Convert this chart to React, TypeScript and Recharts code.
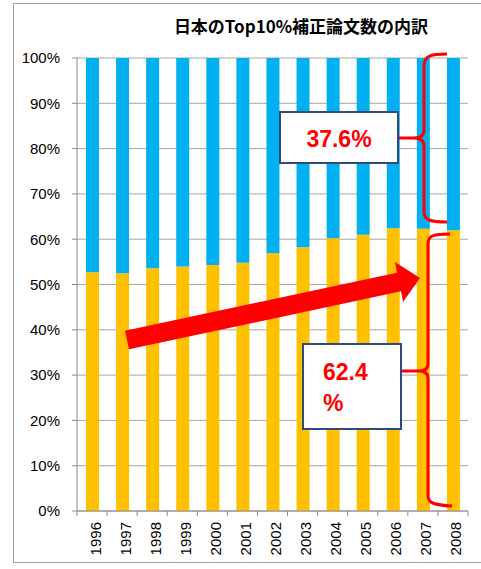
import { BarChart, Bar, XAxis, YAxis, CartesianGrid } from 'recharts'

const years = ['1996', '1997', '1998', '1999', '2000', '2001', '2002', '2003', '2004', '2005', '2006', '2007', '2008']
const domesticShare = [52.7, 52.5, 53.6, 54.0, 54.3, 54.8, 56.9, 58.2, 60.2, 61.0, 62.4, 62.3, 62.0]
const intlShare = domesticShare.map((v) => Math.round((100 - v) * 10) / 10)
const yTicks = [0, 10, 20, 30, 40, 50, 60, 70, 80, 90, 100]

const W = 481
const H = 569
const M = { top: 58, right: 13, left: 17, bottom: 0 }
const Y_W = 60
const X_H = 58
const FONT = '"Liberation Sans", Arial, sans-serif'

const data = years.map((year, i) => ({
  year,
  domestic: domesticShare[i],
  intl: intlShare[i],
}))

const band = (W - M.left - Y_W - M.right) / years.length

function YearTick(props: any) {
  const { x, y, index } = props
  const left = x - band / 2
  return (
    <g>
      <line x1={left} y1={y} x2={left} y2={y + 5} stroke="#8c8c8c" />
      {index === years.length - 1 && (
        <line x1={left + band} y1={y} x2={left + band} y2={y + 5} stroke="#8c8c8c" />
      )}
      <text
        x={x + 3}
        y={y + 11}
        transform={`rotate(-90, ${x + 3}, ${y + 11})`}
        textAnchor="end"
        dominantBaseline="central"
        fontSize={15}
        fontFamily={FONT}
        fill="#000"
      >
        {props.payload.value}
      </text>
    </g>
  )
}

export default function App() {
  return (
    <div style={{ position: 'absolute', left: 0, top: 0, width: W, height: H, background: '#fff' }}>
      <svg width={W} height={H} style={{ position: 'absolute', left: 0, top: 0 }}>
        <rect x={13.5} y={3.5} width={470} height={559} fill="none" stroke="#a0a0a0" />
        <text
          x={301}
          y={25}
          textAnchor="middle"
          dominantBaseline="central"
          fontSize={17}
          fontWeight="bold"
          fontFamily='"Noto Sans CJK JP", sans-serif'
        >
          日本のTop10%補正論文数の内訳
        </text>
      </svg>
      <div style={{ position: 'absolute', left: 0, top: 0 }}>
        <BarChart width={W} height={H} data={data} margin={M}>
          <CartesianGrid vertical={false} stroke="#a6a6a6" />
          <XAxis
            dataKey="year"
            height={X_H}
            stroke="#8c8c8c"
            tickLine={false}
            tickSize={0}
            tickMargin={0}
            interval={0}
            tick={<YearTick />}
          />
          <YAxis
            width={Y_W}
            domain={[0, 100]}
            ticks={yTicks}
            stroke="#8c8c8c"
            tickSize={5}
            tickMargin={12}
            tick={{ fontSize: 15, fill: '#000', fontFamily: FONT }}
            tickFormatter={(v) => `${v}%`}
          />
          <Bar dataKey="domestic" stackId="a" fill="#FFC000" barSize={13} isAnimationActive={false} />
          <Bar dataKey="intl" stackId="a" fill="#00B0F0" barSize={13} isAnimationActive={false} />
        </BarChart>
      </div>
      <svg width={W} height={H} style={{ position: 'absolute', left: 0, top: 0, pointerEvents: 'none' }}>
        {/* trend arrow */}
        <polygon
          points="125,330.7 397,272.7 395,262 420,278 403,302 401,291.3 129,349.3"
          fill="#FF0000"
        />
        {/* upper brace + box */}
        <path
          d="M447,54 C430,54 424,56 424,66 L424,130 C424,136 420,138 414,138 C420,138 424,140 424,146 L424,212 C424,220 430,222 447,222 M398,138 L414,138"
          fill="none"
          stroke="#FF0000"
          strokeWidth={3}
        />
        <rect x={280} y={112} width={118} height={51} fill="#fff" stroke="#2F4B7C" strokeWidth={2} />
        <text
          x={339}
          y={139}
          textAnchor="middle"
          dominantBaseline="central"
          fontSize={23}
          fontWeight="bold"
          fontFamily={FONT}
          fill="#FF0000"
        >
          37.6%
        </text>
        {/* lower brace + box */}
        <path
          d="M450,234 C432,234 428,236 428,244 L428,364 C428,369 424,371 418,371 C424,371 428,373 428,378 L428,496 C428,503 434,505 452,506 M402,371 L418,371"
          fill="none"
          stroke="#FF0000"
          strokeWidth={3}
        />
        <rect x={303} y={344} width={98} height={85} fill="#fff" stroke="#2F4B7C" strokeWidth={2} />
        <text x={323} y={380} fontSize={23} fontWeight="bold" fontFamily={FONT} fill="#FF0000">
          62.4
        </text>
        <text x={323} y={411} fontSize={23} fontWeight="bold" fontFamily={FONT} fill="#FF0000">
          %
        </text>
      </svg>
    </div>
  )
}
